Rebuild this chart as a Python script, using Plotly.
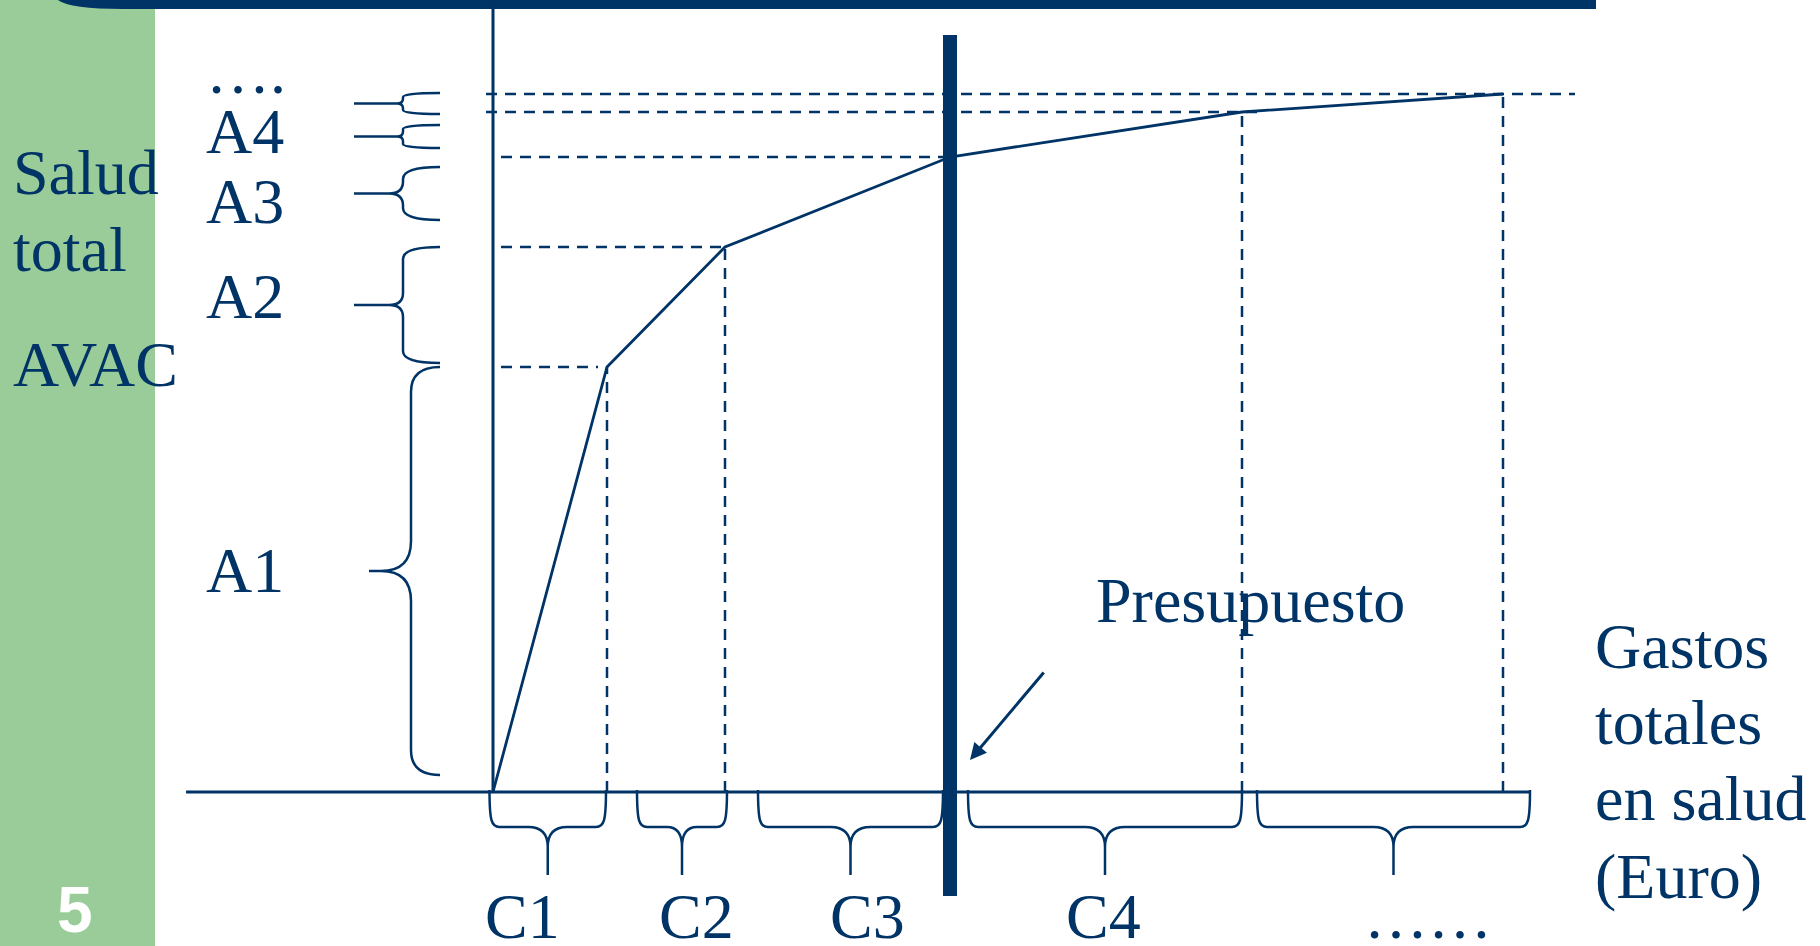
import plotly.graph_objects as go

NAVY = "#003366"
GREEN = "#99CC99"
SERIF = "Liberation Serif, Times New Roman, serif"

# Curva salud-gasto: vértices acumulados (unidades arbitrarias)
gastos = [0.0, 1.14, 2.32, 4.57, 7.49, 10.10]
salud = [0.0, 4.25, 5.45, 6.35, 6.80, 6.98]
presupuesto = 4.57

etiquetas_salud = ["A1", "A2", "A3", "A4", "…."]
etiquetas_gasto = ["C1", "C2", "C3", "C4", "……"]

# Tramos que abarca cada llave
tramos_gasto = [(-0.035, 1.13), (1.44, 2.34), (2.65, 4.50), (4.75, 7.49), (7.64, 10.37)]
tramos_salud = [(0.17, 4.25), (4.29, 5.45), (5.72, 6.25), (6.44, 6.67), (6.78, 6.99)]

# Posiciones de las etiquetas de cada tramo
x_etq_gasto = [0.29, 2.03, 3.74, 6.10, 9.35]
y_etq_salud = [2.22, 4.96, 5.91, 6.61, 7.21]

# Extremos de las guías punteadas horizontales
guia_h_ini = [0.08, 0.08, 0.08, -0.07, -0.07]
guia_h_fin = [1.05, 2.32, 4.57, 7.64, 10.82]

X_RANGE = [-4.93, 13.27]
Y_RANGE = [-1.54, 7.92]

fig = go.Figure()

# Curva principal
fig.add_trace(go.Scatter(x=gastos, y=salud, mode="lines",
                         line=dict(color=NAVY, width=2.8), hoverinfo="skip"))

shapes = []

# Banda verde lateral
shapes.append(dict(type="rect", xref="paper", yref="paper", x0=0, x1=155 / 1820, y0=0, y1=1,
                   fillcolor=GREEN, line=dict(width=0), layer="below"))

# Barra superior con esquina redondeada
shapes.append(dict(type="path", xref="x", yref="y",
                   path="M-4.38,7.95 Q-4.31,7.83 -3.70,7.83 L11.03,7.83 L11.03,7.95 Z",
                   fillcolor=NAVY, line=dict(width=0)))

# Ejes
shapes.append(dict(type="line", xref="x", yref="y", x0=0, x1=0, y0=0, y1=7.92,
                   line=dict(color=NAVY, width=3)))
shapes.append(dict(type="line", xref="x", yref="y", x0=-3.07, x1=10.37, y0=0, y1=0,
                   line=dict(color=NAVY, width=3)))

DASH = "11px,8px"
# Guías horizontales punteadas
for i in range(5):
    shapes.append(dict(type="line", xref="x", yref="y",
                       x0=guia_h_ini[i], x1=guia_h_fin[i], y0=salud[i + 1], y1=salud[i + 1],
                       line=dict(color=NAVY, width=2.7, dash=DASH)))
# Guías verticales punteadas
for i in [1, 2, 4, 5]:
    shapes.append(dict(type="line", xref="x", yref="y",
                       x0=gastos[i], x1=gastos[i], y0=0, y1=salud[i],
                       line=dict(color=NAVY, width=2.5, dash=DASH)))


def llave_abajo(x0, x1, y_flat=-0.35, y_tip=-0.83):
    xm = (x0 + x1) / 2
    r = 0.1
    c = min(0.2, (x1 - x0) / 6)
    return (f"M{x0},0.02 C{x0},{y_flat + 0.06} {x0 + 0.02},{y_flat} {x0 + r},{y_flat} "
            f"L{xm - c},{y_flat} Q{xm},{y_flat} {xm},{y_flat - 0.2} L{xm},{y_tip} "
            f"L{xm},{y_flat - 0.2} Q{xm},{y_flat} {xm + c},{y_flat} "
            f"L{x1 - r},{y_flat} C{x1 - 0.02},{y_flat} {x1},{y_flat + 0.06} {x1},0.02")


def llave_izq(y0, y1, x_end=-0.53, x_spine=-0.90, x_tip=-1.39, r=0.1, c=0.1, d=0.12):
    ym = (y0 + y1) / 2
    return (f"M{x_end},{y1} Q{x_spine},{y1} {x_spine},{y1 - r} L{x_spine},{ym + c} "
            f"Q{x_spine},{ym} {x_spine - d},{ym} L{x_tip},{ym} L{x_spine - d},{ym} "
            f"Q{x_spine},{ym} {x_spine},{ym - c} L{x_spine},{y0 + r} "
            f"Q{x_spine},{y0} {x_end},{y0}")


for (a, b) in tramos_gasto:
    shapes.append(dict(type="path", xref="x", yref="y", path=llave_abajo(a, b),
                       line=dict(color=NAVY, width=2.5)))

for k, (a, b) in enumerate(tramos_salud):
    span = b - a
    if k == 0:
        p = llave_izq(a, b, x_spine=-0.82, x_tip=-1.24, r=0.25, c=0.3, d=0.3)
    elif k in (1, 2):
        p = llave_izq(a, b, r=min(0.12, span / 4), c=min(0.12, span / 4), d=0.14)
    else:
        p = llave_izq(a, b, r=0.04, c=0.05, d=0.06)
    shapes.append(dict(type="path", xref="x", yref="y", path=p,
                       line=dict(color=NAVY, width=2.5)))

# Línea de presupuesto
shapes.append(dict(type="line", xref="x", yref="y", x0=presupuesto, x1=presupuesto,
                   y0=-1.04, y1=7.57, line=dict(color=NAVY, width=14)))

annotations = []


def texto(x, y, t, size=64, xanchor="left", color=NAVY, family=SERIF, bold=False):
    annotations.append(dict(x=x, y=y, xref="x", yref="y", text=f"<b>{t}</b>" if bold else t,
                            showarrow=False, xanchor=xanchor, yanchor="middle",
                            font=dict(family=family, size=size, color=color)))


texto(-4.82, 6.20, "Salud")
texto(-4.82, 5.43, "total")
texto(-4.82, 4.28, "AVAC")

for t, y in zip(etiquetas_salud, y_etq_salud):
    texto(-2.89, y, t)

for t, x in zip(etiquetas_gasto, x_etq_gasto):
    texto(x, -1.24, t, xanchor="center")

texto(6.01, 1.92, "Presupuesto")
for t, y in zip(["Gastos", "totales", "en salud", "(Euro)"], [1.46, 0.70, -0.06, -0.84]):
    texto(11.00, y, t)

texto(-4.18, -1.18, "5", size=64, xanchor="center", color="white",
      family="Liberation Sans, Arial, sans-serif", bold=True)

# Flecha hacia la línea de presupuesto
annotations.append(dict(x=4.77, y=0.32, ax=5.52, ay=1.21, xref="x", yref="y",
                        axref="x", ayref="y", text="", showarrow=True,
                        arrowhead=2, arrowsize=1.1, arrowwidth=3, arrowcolor=NAVY))

fig.update_layout(
    width=1820, height=946,
    margin=dict(l=0, r=0, t=0, b=0),
    paper_bgcolor="white", plot_bgcolor="white",
    showlegend=False,
    shapes=shapes, annotations=annotations,
    xaxis=dict(range=X_RANGE, visible=False, fixedrange=True),
    yaxis=dict(range=Y_RANGE, visible=False, fixedrange=True),
)

fig.write_html("out.html", config={"displayModeBar": False})
